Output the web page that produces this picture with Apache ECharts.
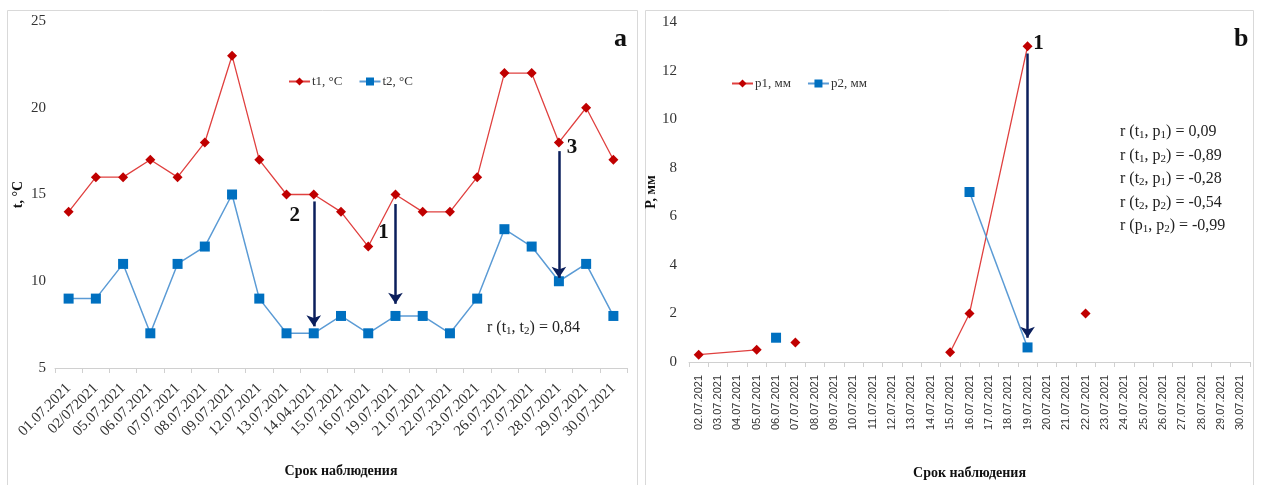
<!DOCTYPE html>
<html><head><meta charset="utf-8">
<script src="https://cdn.jsdelivr.net/npm/echarts@6/dist/echarts.min.js"></script>
<style>html,body{margin:0;padding:0;background:#fff}#c{width:1261px;height:485px}</style>
</head><body><div id="c"></div>
<script>
// ---------- data ----------
const catsA = ['01.07.2021','02/072021','05.07.2021','06.07.2021','07.07.2021','08.07.2021','09.07.2021','12.07.2021','13.07.2021','14.04.2021','15.07.2021','16.07.2021','19.07.2021','21.07.2021','22.07.2021','23.07.2021','26.07.2021','27.07.2021','28.07.2021','29.07.2021','30.07.2021'];
const t1 = [14,16,16,17,16,18,23,17,15,15,14,12,15,14,14,16,22,22,18,20,17];
const t2 = [9,9,11,7,11,12,15,9,7,7,8,7,8,8,7,9,13,12,10,11,8];
const ticksA = [5,10,15,20,25];

const catsB = ['02.07.2021','03.07.2021','04.07.2021','05.07.2021','06.07.2021','07.07.2021','08.07.2021','09.07.2021','10.07.2021','11.07.2021','12.07.2021','13.07.2021','14.07.2021','15.07.2021','16.07.2021','17.07.2021','18.07.2021','19.07.2021','20.07.2021','21.07.2021','22.07.2021','23.07.2021','24.07.2021','25.07.2021','26.07.2021','27.07.2021','28.07.2021','29.07.2021','30.07.2021'];
// null = blank cell bridged by the line, '-' = line break
const p1 = [0.3,null,null,0.5,'-',0.8,'-','-','-','-','-','-','-',0.4,2,null,null,13,'-','-',2,'-','-','-','-','-','-','-','-'];
const p2 = ['-','-','-','-',1.0,'-','-','-','-','-','-','-','-','-',7,null,null,0.6,'-','-','-','-','-','-','-','-','-','-','-'];
const ticksB = [0,2,4,6,8,10,12,14];

const arrowsA = [
  {cat:'14.04.2021', from:14.6, to:7.4, label:'2', labelY:13.8},
  {cat:'19.07.2021', from:14.45, to:8.7, label:'1', labelY:12.8},
  {cat:'28.07.2021', from:17.5, to:10.2, label:'3', labelY:17.7}
];
const arrowsB = [
  {cat:'19.07.2021', from:12.7, to:1.0, label:'1', labelY:13.1}
];
const corrA = ['r (t{s|1}, t{s|2}) = 0,84'];
const corrB = ['r (t{s|1}, p{s|1}) = 0,09','r (t{s|1}, p{s|2}) = -0,89','r (t{s|2}, p{s|1}) = -0,28','r (t{s|2}, p{s|2}) = -0,54','r (p{s|1}, p{s|2}) = -0,99'];

// ---------- styles ----------
const SERIF = '"Liberation Serif","Times New Roman",serif';
const RED_M = '#c00000', RED_L = '#e0403f', BLUE_M = '#0070c0', BLUE_L = '#5b9bd5', NAVY = '#0b1f5c';
const labelOffA = [[-19,0],[-12,0],[13,0]];
const labelOffB = [[11,0]];

function segments(vals){
  const segs=[]; let cur=null;
  vals.forEach((v,i)=>{
    if(v==='-'){ if(cur){segs.push(cur);cur=null;} }
    else { if(!cur) cur=new Array(vals.length).fill(null); cur[i]=v; }
  });
  if(cur) segs.push(cur);
  return segs;
}
function arrowMarks(arrows){
  return {silent:true, symbol:['none','arrow'], symbolSize:11, label:{show:false},
    lineStyle:{color:NAVY,width:2.5,type:'solid'}, emphasis:{disabled:true},
    data: arrows.map(a=>[{coord:[a.cat,a.from]},{coord:[a.cat,a.to]}])};
}
function arrowLabels(arrows, offs){
  return {silent:true, symbol:'circle', symbolSize:1, itemStyle:{color:'rgba(0,0,0,0)'},
    label:{show:true, formatter:'{b}', fontFamily:SERIF, fontWeight:'bold', fontSize:21, color:'#111'},
    data: arrows.map((a,i)=>({name:a.label, coord:[a.cat,a.labelY], label:{offset:offs[i]}}))};
}

const axisLine = {show:true, lineStyle:{color:'#d0d0d0'}};
const xAxisCommon = {type:'category', boundaryGap:true, axisLine, axisTick:{show:true,length:5,lineStyle:{color:'#d0d0d0'}},
  splitLine:{show:false}, nameLocation:'middle', nameTextStyle:{fontFamily:SERIF,fontWeight:'bold',fontSize:14,color:'#111'}};
const yAxisCommon = {type:'value', axisLine:{show:false}, axisTick:{show:false}, splitLine:{show:false},
  nameLocation:'middle', nameRotate:90, nameTextStyle:{fontFamily:SERIF,fontWeight:'bold',fontSize:14,color:'#111'},
  axisLabel:{fontFamily:SERIF,fontSize:15,color:'#333'}};

const series = [
  {type:'line', name:'t1, °C', xAxisIndex:0, yAxisIndex:0, data:t1, symbol:'diamond', symbolSize:10,
   itemStyle:{color:RED_M}, lineStyle:{color:RED_L,width:1.3}, markLine:arrowMarks(arrowsA), markPoint:arrowLabels(arrowsA,labelOffA)},
  {type:'line', name:'t2, °C', xAxisIndex:0, yAxisIndex:0, data:t2, symbol:'rect', symbolSize:10,
   itemStyle:{color:BLUE_M}, lineStyle:{color:BLUE_L,width:1.5}}
];
segments(p1).forEach((seg,i)=>series.push({type:'line', name:'p1, мм', xAxisIndex:1, yAxisIndex:1, data:seg, connectNulls:true,
  symbol:'diamond', symbolSize:10, itemStyle:{color:RED_M}, lineStyle:{color:RED_L,width:1.3},
  markLine: i===0?arrowMarks(arrowsB):undefined, markPoint: i===0?arrowLabels(arrowsB,labelOffB):undefined}));
segments(p2).forEach(seg=>series.push({type:'line', name:'p2, мм', xAxisIndex:1, yAxisIndex:1, data:seg, connectNulls:true,
  symbol:'rect', symbolSize:10, itemStyle:{color:BLUE_M}, lineStyle:{color:BLUE_L,width:1.5}}));

const richSub = {s:{fontFamily:SERIF,fontSize:11,fill:'#222',verticalAlign:'bottom',padding:[7,0,0,0]}};
function corrText(lines, x, y){
  return lines.map((t,i)=>({type:'text', left:x, top:y+i*23.5, silent:true,
    style:{text:t, font:'16px '+SERIF, fill:'#222', rich:richSub}}));
}

const chart = echarts.init(document.getElementById('c'), null, {renderer:'canvas'});
chart.setOption({
  animation:false,
  backgroundColor:'#fff',
  grid:[
    {left:55, top:21, width:572, height:347},
    {left:689, top:22, width:561, height:342}
  ],
  legend:[
    {data:['t1, °C','t2, °C'], left:283, top:70, itemWidth:21, itemHeight:10, itemGap:16,
     textStyle:{fontFamily:SERIF,fontSize:13,color:'#333',padding:[0,0,0,-3]}},
    {data:['p1, мм','p2, мм'], left:726, top:72, itemWidth:21, itemHeight:10, itemGap:16,
     textStyle:{fontFamily:SERIF,fontSize:13,color:'#333',padding:[0,0,0,-3]}}
  ],
  xAxis:[
    Object.assign({}, xAxisCommon, {gridIndex:0, data:catsA, name:'Срок наблюдения', nameGap:96,
      axisLabel:{rotate:45, interval:0, fontFamily:SERIF, fontSize:15, color:'#333', margin:18}}),
    Object.assign({}, xAxisCommon, {gridIndex:1, data:catsB, name:'Срок наблюдения', nameGap:104,
      axisLabel:{rotate:90, interval:0, fontFamily:'"Liberation Sans",Arial,sans-serif', fontSize:11, color:'#333', margin:13}})
  ],
  yAxis:[
    Object.assign({}, yAxisCommon, {gridIndex:0, min:ticksA[0], max:ticksA[ticksA.length-1], interval:5, name:'t, °C', nameGap:30,
      axisLabel:Object.assign({}, yAxisCommon.axisLabel, {margin:9})}),
    Object.assign({}, yAxisCommon, {gridIndex:1, min:ticksB[0], max:ticksB[ticksB.length-1], interval:2, name:'P, мм', nameGap:27,
      axisLabel:Object.assign({}, yAxisCommon.axisLabel, {margin:12})})
  ],
  series,
  graphic:[
    {type:'rect', shape:{x:7.5,y:10.5,width:630,height:480}, style:{fill:'none',stroke:'#d9d9d9',lineWidth:1}, silent:true, z:-1},
    {type:'rect', shape:{x:645.5,y:10.5,width:608,height:480}, style:{fill:'none',stroke:'#d9d9d9',lineWidth:1}, silent:true, z:-1},
    {type:'text', left:614, top:26, silent:true, style:{text:'a', font:'bold 26px '+SERIF, fill:'#111'}},
    {type:'text', left:1234, top:26, silent:true, style:{text:'b', font:'bold 26px '+SERIF, fill:'#111'}}
  ].concat(corrText(corrA, 487, 320), corrText(corrB, 1120, 124))
});
</script></body></html>
